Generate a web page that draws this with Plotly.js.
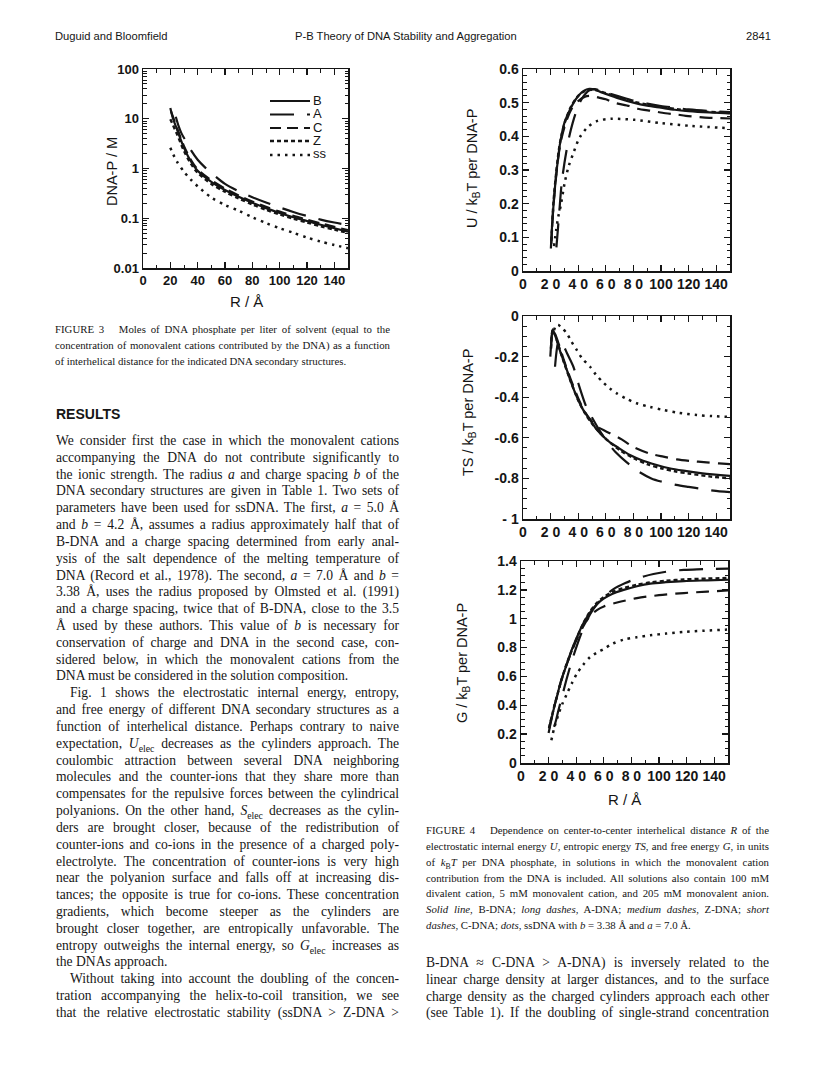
<!DOCTYPE html>
<html>
<head>
<meta charset="utf-8">
<script src="https://cdn.plot.ly/plotly-3.0.1.min.js"></script>
<style>
  body { margin: 0; background: #fff; }
  #page { position: relative; width: 816px; height: 1078px; overflow: hidden; background: #fff; }
  #chart { position: absolute; left: 0; top: 0; width: 816px; height: 1078px; }
  .ln { position: absolute; white-space: nowrap; color: #161616; height: 16px; line-height: 16px; }
  .serif { font-family: "Liberation Serif", "Times New Roman", serif; }
  .sans { font-family: "Liberation Sans", Arial, sans-serif; }
  .j { text-align: justify; text-align-last: justify; }
  .l { text-align: left; }
  sub { font-size: 0.72em; line-height: 0; }
</style>
</head>
<body>
<div id="page">
  <div id="chart"></div>
  <div id="text"></div>
</div>
<script>
// ---------------- Figure 3: moles DNA phosphate per liter vs R ----------------
const f3_R_B = [20, 22, 25, 30, 35, 40, 50, 60, 70, 80, 90, 100, 110, 120, 130, 140, 150];
const f3_B   = [16.5, 10, 6.0, 2.6, 1.4, 0.9, 0.54, 0.37, 0.27, 0.205, 0.16, 0.128, 0.105, 0.088, 0.074, 0.063, 0.054];
const f3_R_Z = [20, 22, 25, 30, 35, 40, 50, 60, 70, 80, 90, 100, 110, 120, 130, 140, 150];
const f3_Z   = [9.8, 7.4, 4.8, 2.25, 1.25, 0.82, 0.49, 0.34, 0.25, 0.19, 0.148, 0.119, 0.098, 0.082, 0.069, 0.059, 0.051];
const f3_R_C = [20.5, 22, 25, 30, 35, 40, 50, 60, 70, 80, 90, 100, 110, 120, 130, 140, 150];
const f3_C   = [14, 10.8, 6.4, 2.8, 1.5, 0.96, 0.58, 0.395, 0.288, 0.218, 0.17, 0.136, 0.112, 0.094, 0.079, 0.067, 0.058];
const f3_R_A = [24, 26, 28, 31, 35, 40, 45, 52, 60, 70, 80, 90, 100, 110, 120, 130, 140, 150];
const f3_A   = [11, 7.2, 5.2, 3.7, 2.35, 1.5, 1.08, 0.73, 0.49, 0.35, 0.265, 0.207, 0.165, 0.134, 0.111, 0.094, 0.082, 0.073];
const f3_R_ss = [20, 22, 25, 30, 35, 40, 50, 60, 70, 80, 90, 100, 110, 120, 130, 140, 150];
const f3_ss   = [2.6, 1.95, 1.35, 0.86, 0.6, 0.44, 0.26, 0.185, 0.142, 0.105, 0.08, 0.063, 0.051, 0.041, 0.034, 0.029, 0.025];
const f3_legend = ['B', 'A', 'C', 'Z', 'ss'];

// ---------------- Figure 4 top: U / kBT per DNA-P ----------------
const u_R_B = [20.2, 21, 22, 23, 24, 25, 26.5, 28, 30, 33, 36, 40, 44, 48, 52, 56, 60, 70, 80, 90, 100, 110, 120, 135, 150];
const u_B   = [0.067, 0.13, 0.19, 0.24, 0.285, 0.32, 0.37, 0.405, 0.44, 0.47, 0.495, 0.52, 0.535, 0.541, 0.539, 0.532, 0.526, 0.512, 0.5, 0.491, 0.485, 0.479, 0.475, 0.471, 0.468];
const u_R_A = [24.2, 26, 28, 30, 33, 36, 40, 44, 48, 52, 60, 70, 80, 90, 100, 110, 120, 135, 150];
const u_A   = [0.07, 0.16, 0.26, 0.32, 0.39, 0.44, 0.49, 0.52, 0.537, 0.54, 0.53, 0.518, 0.506, 0.497, 0.49, 0.485, 0.48, 0.475, 0.472];
const u_R_Z = [20.5, 22, 24, 26, 28, 31, 35, 40, 45, 50, 55, 60, 66, 77, 83, 94, 101, 111, 118, 128, 135, 150];
const u_Z   = [0.08, 0.19, 0.28, 0.35, 0.395, 0.44, 0.48, 0.505, 0.518, 0.52, 0.515, 0.51, 0.5, 0.49, 0.482, 0.475, 0.47, 0.465, 0.461, 0.457, 0.455, 0.453];
const u_R_C = [20.6, 22, 24, 26, 28, 31, 35, 40, 45, 50, 55, 60, 70, 80, 90, 100, 120, 150];
const u_C   = [0.09, 0.2, 0.29, 0.36, 0.405, 0.45, 0.49, 0.52, 0.535, 0.538, 0.535, 0.528, 0.515, 0.503, 0.494, 0.487, 0.477, 0.469];
const u_R_ss = [22.5, 24, 25.5, 27.3, 30.2, 33, 36.2, 41, 47, 54, 64, 81, 100, 122, 150];
const u_ss   = [0.074, 0.12, 0.16, 0.193, 0.262, 0.31, 0.347, 0.396, 0.428, 0.446, 0.452, 0.449, 0.439, 0.431, 0.424];

// ---------------- Figure 4 middle: TS / kBT per DNA-P ----------------
const ts_R_B = [19.8, 20.6, 21.5, 23, 25, 27, 29.2, 32, 35, 38.9, 43, 48.6, 53, 58.2, 63, 67.9, 77.5, 87, 96.9, 106, 116.2, 130, 150];
const ts_B   = [-0.2, -0.12, -0.066, -0.09, -0.13, -0.175, -0.217, -0.27, -0.33, -0.397, -0.455, -0.512, -0.556, -0.594, -0.622, -0.644, -0.685, -0.713, -0.734, -0.75, -0.762, -0.775, -0.788];
const ts_R_A = [23.2, 24.2, 25.5, 27, 29, 32, 36.5, 40, 46, 50, 56, 62, 67, 75, 84, 93, 100, 111, 120, 130, 138, 150];
const ts_A   = [-0.25, -0.18, -0.13, -0.12, -0.14, -0.185, -0.25, -0.33, -0.45, -0.5, -0.57, -0.63, -0.67, -0.72, -0.767, -0.8, -0.815, -0.832, -0.842, -0.852, -0.86, -0.868];
const ts_R_Z = [20.3, 21.5, 23, 26, 30, 35, 40, 45, 50, 55, 63, 71.5, 80, 92, 101.7, 111.4, 121, 133, 142, 150];
const ts_Z   = [-0.16, -0.075, -0.085, -0.14, -0.225, -0.32, -0.405, -0.475, -0.52, -0.55, -0.578, -0.608, -0.645, -0.678, -0.693, -0.706, -0.714, -0.721, -0.726, -0.73];
const ts_R_C = [20.3, 21.5, 23, 25, 29, 35, 40, 45, 50, 55, 60, 70, 80, 90, 100, 110, 120, 135, 150];
const ts_C   = [-0.16, -0.07, -0.09, -0.13, -0.215, -0.33, -0.415, -0.48, -0.53, -0.57, -0.605, -0.66, -0.7, -0.73, -0.75, -0.765, -0.776, -0.79, -0.8];
const ts_R_ss = [22.5, 24, 25.6, 28, 31.7, 35, 38.9, 43, 48.6, 53, 58.2, 63, 67.9, 75, 82.4, 92, 101.7, 113, 125.9, 137, 150];
const ts_ss   = [-0.07, -0.045, -0.044, -0.058, -0.085, -0.125, -0.167, -0.21, -0.25, -0.29, -0.328, -0.357, -0.381, -0.408, -0.43, -0.448, -0.463, -0.477, -0.488, -0.493, -0.497];

// ---------------- Figure 4 bottom: G / kBT per DNA-P ----------------
const g_R_B = [20, 22, 24, 26, 29, 33.3, 37, 40.6, 45, 50.2, 55, 59.9, 66, 74.4, 84, 93.7, 105, 118, 135, 150];
const g_B   = [0.208, 0.3, 0.385, 0.457, 0.57, 0.688, 0.79, 0.873, 0.965, 1.046, 1.1, 1.139, 1.172, 1.2, 1.225, 1.243, 1.253, 1.261, 1.266, 1.27];
const g_R_A = [24, 25.5, 27, 30, 33, 36, 40, 45, 50, 55, 60, 67, 75.6, 82, 88.9, 96, 103, 110, 118, 127.5, 138, 150];
const g_A   = [0.25, 0.3, 0.36, 0.47, 0.58, 0.68, 0.8, 0.93, 1.03, 1.1, 1.15, 1.205, 1.247, 1.272, 1.293, 1.31, 1.322, 1.332, 1.338, 1.342, 1.345, 1.347];
const g_R_Z = [20.3, 22, 24, 26, 29, 33, 37, 40.6, 45, 50, 55, 60, 69.6, 84, 100, 118, 135, 150];
const g_Z   = [0.24, 0.31, 0.39, 0.46, 0.565, 0.68, 0.78, 0.86, 0.945, 1.02, 1.06, 1.085, 1.112, 1.143, 1.163, 1.178, 1.188, 1.196];
const g_R_C = [20.3, 22, 24, 26, 29, 33, 37, 40.6, 45, 50, 55, 60, 66, 74, 84, 94, 105, 118, 135, 150];
const g_C   = [0.24, 0.31, 0.39, 0.46, 0.565, 0.685, 0.785, 0.87, 0.965, 1.05, 1.11, 1.15, 1.185, 1.212, 1.235, 1.252, 1.263, 1.272, 1.278, 1.282];
const g_R_ss = [22, 24, 27.3, 30, 33.3, 37, 40.6, 45, 50.2, 55, 60, 66, 74.4, 84, 93.7, 105, 118, 133, 148, 150];
const g_ss   = [0.157, 0.24, 0.342, 0.41, 0.48, 0.555, 0.62, 0.68, 0.735, 0.765, 0.79, 0.825, 0.855, 0.872, 0.885, 0.897, 0.908, 0.917, 0.924, 0.925];

// tick labels (as printed)
const f4_xvals = [0, 20, 40, 60, 80, 100, 120, 140];
const f4_xtext = ['0', '2 0', '4 0', '6 0', '8 0', '100', '120', '140'];
const ts_yvals = [-1, -0.8, -0.6, -0.4, -0.2, 0];
const ts_ytext = ['- 1', '-0.8', '-0.6', '-0.4', '-0.2', '0'];

// ---------------- page geometry helpers ----------------
const W = 816, H = 1078;
const px = x => x / W;
const py = y => 1 - y / H;

const INK = '#151515';
const tickFont3 = { family: 'Liberation Sans, Arial, sans-serif', size: 13, color: INK, weight: 'bold' };
const tickFont4 = { family: 'Liberation Sans, Arial, sans-serif', size: 14, color: INK, weight: 'bold' };
const titleFont = { family: 'Liberation Sans, Arial, sans-serif', size: 14.5, color: INK };

// line styles
const sty = {
  B:  { width: 2.2, dash: 'solid' },
  A:  { width: 2.2, dash: '24px,13px' },
  C3: { width: 2.2, dash: '11px,6px' },
  Z3: { width: 2.4, dash: '4px,3px' },
  Z4: { width: 2.2, dash: '13px,8px' },
  C4: { width: 2.4, dash: '4px,3px' },
  ss: { width: 2.5, dash: '2.5px,5px' }
};

function axis(domain, font, extra) {
  return Object.assign({
    domain: domain,
    showline: true, linecolor: INK, linewidth: 1.5, mirror: 'allticks',
    ticks: 'inside', ticklen: 6, tickwidth: 1.3, tickcolor: INK,
    showgrid: false, zeroline: false, fixedrange: true,
    tickfont: font
  }, extra);
}

function trace(x, y, style, xa, ya, name) {
  return {
    x: x, y: y, xaxis: xa, yaxis: ya, name: name, type: 'scatter', mode: 'lines',
    line: { color: INK, width: style.width, dash: style.dash, shape: 'spline', smoothing: 0.8 },
    showlegend: false, hoverinfo: 'skip'
  };
}

const data = [
  // figure 3
  trace(f3_R_ss, f3_ss, sty.ss, 'x', 'y', 'ss'),
  trace(f3_R_Z, f3_Z, sty.Z3, 'x', 'y', 'Z'),
  trace(f3_R_C, f3_C, sty.C3, 'x', 'y', 'C'),
  trace(f3_R_A, f3_A, sty.A, 'x', 'y', 'A'),
  trace(f3_R_B, f3_B, sty.B, 'x', 'y', 'B'),
  // figure 4 top (U)
  trace(u_R_ss, u_ss, sty.ss, 'x2', 'y2', 'ssDNA'),
  trace(u_R_Z, u_Z, sty.Z4, 'x2', 'y2', 'Z-DNA'),
  trace(u_R_C, u_C, sty.C4, 'x2', 'y2', 'C-DNA'),
  trace(u_R_A, u_A, sty.A, 'x2', 'y2', 'A-DNA'),
  trace(u_R_B, u_B, sty.B, 'x2', 'y2', 'B-DNA'),
  // figure 4 middle (TS)
  trace(ts_R_ss, ts_ss, sty.ss, 'x3', 'y3', 'ssDNA'),
  trace(ts_R_Z, ts_Z, sty.Z4, 'x3', 'y3', 'Z-DNA'),
  trace(ts_R_C, ts_C, sty.C4, 'x3', 'y3', 'C-DNA'),
  trace(ts_R_A, ts_A, sty.A, 'x3', 'y3', 'A-DNA'),
  trace(ts_R_B, ts_B, sty.B, 'x3', 'y3', 'B-DNA'),
  // figure 4 bottom (G)
  trace(g_R_ss, g_ss, sty.ss, 'x4', 'y4', 'ssDNA'),
  trace(g_R_Z, g_Z, sty.Z4, 'x4', 'y4', 'Z-DNA'),
  trace(g_R_C, g_C, sty.C4, 'x4', 'y4', 'C-DNA'),
  trace(g_R_A, g_A, sty.A, 'x4', 'y4', 'A-DNA'),
  trace(g_R_B, g_B, sty.B, 'x4', 'y4', 'B-DNA')
];

// log minor ticks for figure 3
const logMinor = [];
[0.01, 0.1, 1, 10].forEach(d => { for (let k = 2; k <= 9; k++) logMinor.push(d * k); });

const xMinor = { ticks: 'inside', ticklen: 3.5, tickwidth: 1, tickcolor: INK, dtick: 10 };

const layout = {
  width: W, height: H,
  margin: { l: 0, r: 0, t: 0, b: 0 },
  paper_bgcolor: '#fff', plot_bgcolor: 'rgba(0,0,0,0)',
  showlegend: false,
  // figure 3
  xaxis: axis([px(143), px(348)], tickFont3, { anchor: 'y', range: [0, 150], tick0: 0, dtick: 20, minor: xMinor }),
  yaxis: axis([py(268), py(69)], tickFont3, {
    anchor: 'x', type: 'log', range: [-2, 2],
    tickvals: [0.01, 0.1, 1, 10, 100], ticktext: ['0.01', '0.1', '1', '10', '100'],
    minor: { ticks: 'inside', ticklen: 3.5, tickwidth: 1, tickcolor: INK, tickvals: logMinor }
  }),
  // figure 4 top
  xaxis2: axis([px(523), px(730)], tickFont4, { anchor: 'y2', range: [0, 150], tickvals: f4_xvals, ticktext: f4_xtext, minor: xMinor }),
  yaxis2: axis([py(271), py(69)], tickFont4, { anchor: 'x2', range: [0, 0.6], tick0: 0, dtick: 0.1,
    minor: { ticks: 'inside', ticklen: 3.5, tickwidth: 1, tickcolor: INK, dtick: 0.02 } }),
  // figure 4 middle
  xaxis3: axis([px(523), px(730)], tickFont4, { anchor: 'y3', range: [0, 150], tickvals: f4_xvals, ticktext: f4_xtext, minor: xMinor }),
  yaxis3: axis([py(519), py(316)], tickFont4, { anchor: 'x3', range: [-1, 0], tickvals: ts_yvals, ticktext: ts_ytext,
    minor: { ticks: 'inside', ticklen: 3.5, tickwidth: 1, tickcolor: INK, dtick: 0.05 } }),
  // figure 4 bottom
  xaxis4: axis([px(521), px(728)], tickFont4, { anchor: 'y4', range: [0, 150], tickvals: f4_xvals, ticktext: f4_xtext, minor: xMinor }),
  yaxis4: axis([py(763), py(561)], tickFont4, { anchor: 'x4', range: [0, 1.4], tick0: 0, dtick: 0.2,
    minor: { ticks: 'inside', ticklen: 3.5, tickwidth: 1, tickcolor: INK, dtick: 0.05 } }),
  annotations: [],
  shapes: []
};

function note(text, x, y, opts) {
  layout.annotations.push(Object.assign({
    text: text, xref: 'paper', yref: 'paper', x: px(x), y: py(y),
    xanchor: 'center', yanchor: 'middle', showarrow: false, font: titleFont
  }, opts || {}));
}

// axis titles
note('DNA-P / M', 112, 172, { textangle: -90 });
note('R / Å', 246, 301, { font: Object.assign({}, titleFont, { size: 15 }) });
note('U / k<sub>B</sub>T per DNA-P', 473, 169, { textangle: -90 });
note('TS / k<sub>B</sub>T per DNA-P', 469, 412, { textangle: -90 });
note('G / k<sub>B</sub>T per DNA-P', 463, 663, { textangle: -90 });
note('R / Å', 624, 800, { font: Object.assign({}, titleFont, { size: 15 }) });

// figure 3 key (sample line + label)
const keyRows = [101, 114.5, 128, 141, 155];
const keyStyles = [sty.B, sty.A, sty.C3, sty.Z3, sty.ss];
f3_legend.forEach((lab, i) => {
  layout.shapes.push({
    type: 'line', xref: 'paper', yref: 'paper',
    x0: px(270), x1: px(310), y0: py(keyRows[i]), y1: py(keyRows[i]),
    line: { color: INK, width: keyStyles[i].width, dash: keyStyles[i].dash }
  });
  note(lab, 311, keyRows[i] - (i === 4 ? 1.5 : 0.5), { xanchor: 'left', font: Object.assign({}, titleFont, { size: 13 }) });
});

Plotly.newPlot('chart', data, layout, { displayModeBar: false, staticPlot: true });

// ---------------- surrounding page text ----------------
const header = [
  ['Duguid and Bloomfield', 55],
  ['P-B Theory of DNA Stability and Aggregation', 295],
  ['2841', 746]
];

const cap3 = [
  'FIGURE 3&nbsp;&nbsp; Moles of DNA phosphate per liter of solvent (equal to the',
  'concentration of monovalent cations contributed by the DNA) as a function',
  'of interhelical distance for the indicated DNA secondary structures.'
];

const cap4 = [
  'FIGURE 4&nbsp;&nbsp; Dependence on center-to-center interhelical distance <i>R</i> of the',
  'electrostatic internal energy <i>U</i>, entropic energy <i>TS</i>, and free energy <i>G</i>, in units',
  'of <i>k</i><sub>B</sub><i>T</i> per DNA phosphate, in solutions in which the monovalent cation',
  'contribution from the DNA is included. All solutions also contain 100 mM',
  'divalent cation, 5 mM monovalent cation, and 205 mM monovalent anion.',
  '<i>Solid line</i>, B-DNA; <i>long dashes</i>, A-DNA; <i>medium dashes</i>, Z-DNA; <i>short</i>',
  '<i>dashes</i>, C-DNA; <i>dots</i>, ssDNA with <i>b</i> = 3.38 Å and <i>a</i> = 7.0 Å.'
];

// [text, alignment] : j = justified, l = ragged last line, i = indented first line
const leftBody = [
  ['We consider first the case in which the monovalent cations', 'j'],
  ['accompanying the DNA do not contribute significantly to', 'j'],
  ['the ionic strength. The radius <i>a</i> and charge spacing <i>b</i> of the', 'j'],
  ['DNA secondary structures are given in Table 1. Two sets of', 'j'],
  ['parameters have been used for ssDNA. The first, <i>a</i> = 5.0 Å', 'j'],
  ['and <i>b</i> = 4.2 Å, assumes a radius approximately half that of', 'j'],
  ['B-DNA and a charge spacing determined from early anal-', 'j'],
  ['ysis of the salt dependence of the melting temperature of', 'j'],
  ['DNA (Record et al., 1978). The second, <i>a</i> = 7.0 Å and <i>b</i> =', 'j'],
  ['3.38 Å, uses the radius proposed by Olmsted et al. (1991)', 'j'],
  ['and a charge spacing, twice that of B-DNA, close to the 3.5', 'j'],
  ['Å used by these authors. This value of <i>b</i> is necessary for', 'j'],
  ['conservation of charge and DNA in the second case, con-', 'j'],
  ['sidered below, in which the monovalent cations from the', 'j'],
  ['DNA must be considered in the solution composition.', 'l'],
  ['Fig. 1 shows the electrostatic internal energy, entropy,', 'i'],
  ['and free energy of different DNA secondary structures as a', 'j'],
  ['function of interhelical distance. Perhaps contrary to naive', 'j'],
  ['expectation, <i>U</i><sub>elec</sub> decreases as the cylinders approach. The', 'j'],
  ['coulombic attraction between several DNA neighboring', 'j'],
  ['molecules and the counter-ions that they share more than', 'j'],
  ['compensates for the repulsive forces between the cylindrical', 'j'],
  ['polyanions. On the other hand, <i>S</i><sub>elec</sub> decreases as the cylin-', 'j'],
  ['ders are brought closer, because of the redistribution of', 'j'],
  ['counter-ions and co-ions in the presence of a charged poly-', 'j'],
  ['electrolyte. The concentration of counter-ions is very high', 'j'],
  ['near the polyanion surface and falls off at increasing dis-', 'j'],
  ['tances; the opposite is true for co-ions. These concentration', 'j'],
  ['gradients, which become steeper as the cylinders are', 'j'],
  ['brought closer together, are entropically unfavorable. The', 'j'],
  ['entropy outweighs the internal energy, so <i>G</i><sub>elec</sub> increases as', 'j'],
  ['the DNAs approach.', 'l'],
  ['Without taking into account the doubling of the concen-', 'i'],
  ['tration accompanying the helix-to-coil transition, we see', 'j'],
  ['that the relative electrostatic stability (ssDNA &gt; Z-DNA &gt;', 'j']
];

const rightBody = [
  ['B-DNA ≈ C-DNA &gt; A-DNA) is inversely related to the', 'j'],
  ['linear charge density at larger distances, and to the surface', 'j'],
  ['charge density as the charged cylinders approach each other', 'j'],
  ['(see Table 1). If the doubling of single-strand concentration', 'j']
];

const box = document.getElementById('text');
function addLine(html, cls, left, yMid, width, size, extraStyle) {
  const d = document.createElement('div');
  d.className = 'ln ' + cls;
  d.innerHTML = html;
  d.style.left = left + 'px';
  d.style.top = (yMid - 8) + 'px';
  if (width) d.style.width = width + 'px';
  d.style.fontSize = size + 'px';
  if (extraStyle) Object.assign(d.style, extraStyle);
  box.appendChild(d);
}

header.forEach(h => addLine(h[0], 'sans', h[1], 36, null, 11.2));

cap3.forEach((t, i) => addLine(t, 'serif ' + (i < cap3.length - 1 ? 'j' : 'l'), 55, 329 + i * 16, 335, 10.8));
cap4.forEach((t, i) => addLine(t, 'serif ' + (i < cap4.length - 1 ? 'j' : 'l'), 426, 830 + i * 15.85, 343, 10.8));

addLine('RESULTS', 'sans', 56, 414, null, 14, { fontWeight: 'bold' });

const LEAD = 16.82;
leftBody.forEach((r, i) => {
  const y = 441 + i * LEAD;
  if (r[1] === 'i') addLine(r[0], 'serif j', 70, y, 329, 13.6);
  else addLine(r[0], 'serif ' + r[1], 56, y, 343, 13.6);
});
rightBody.forEach((r, i) => addLine(r[0], 'serif ' + r[1], 426, 963 + i * LEAD, 343, 13.6));
</script>
</body>
</html>
